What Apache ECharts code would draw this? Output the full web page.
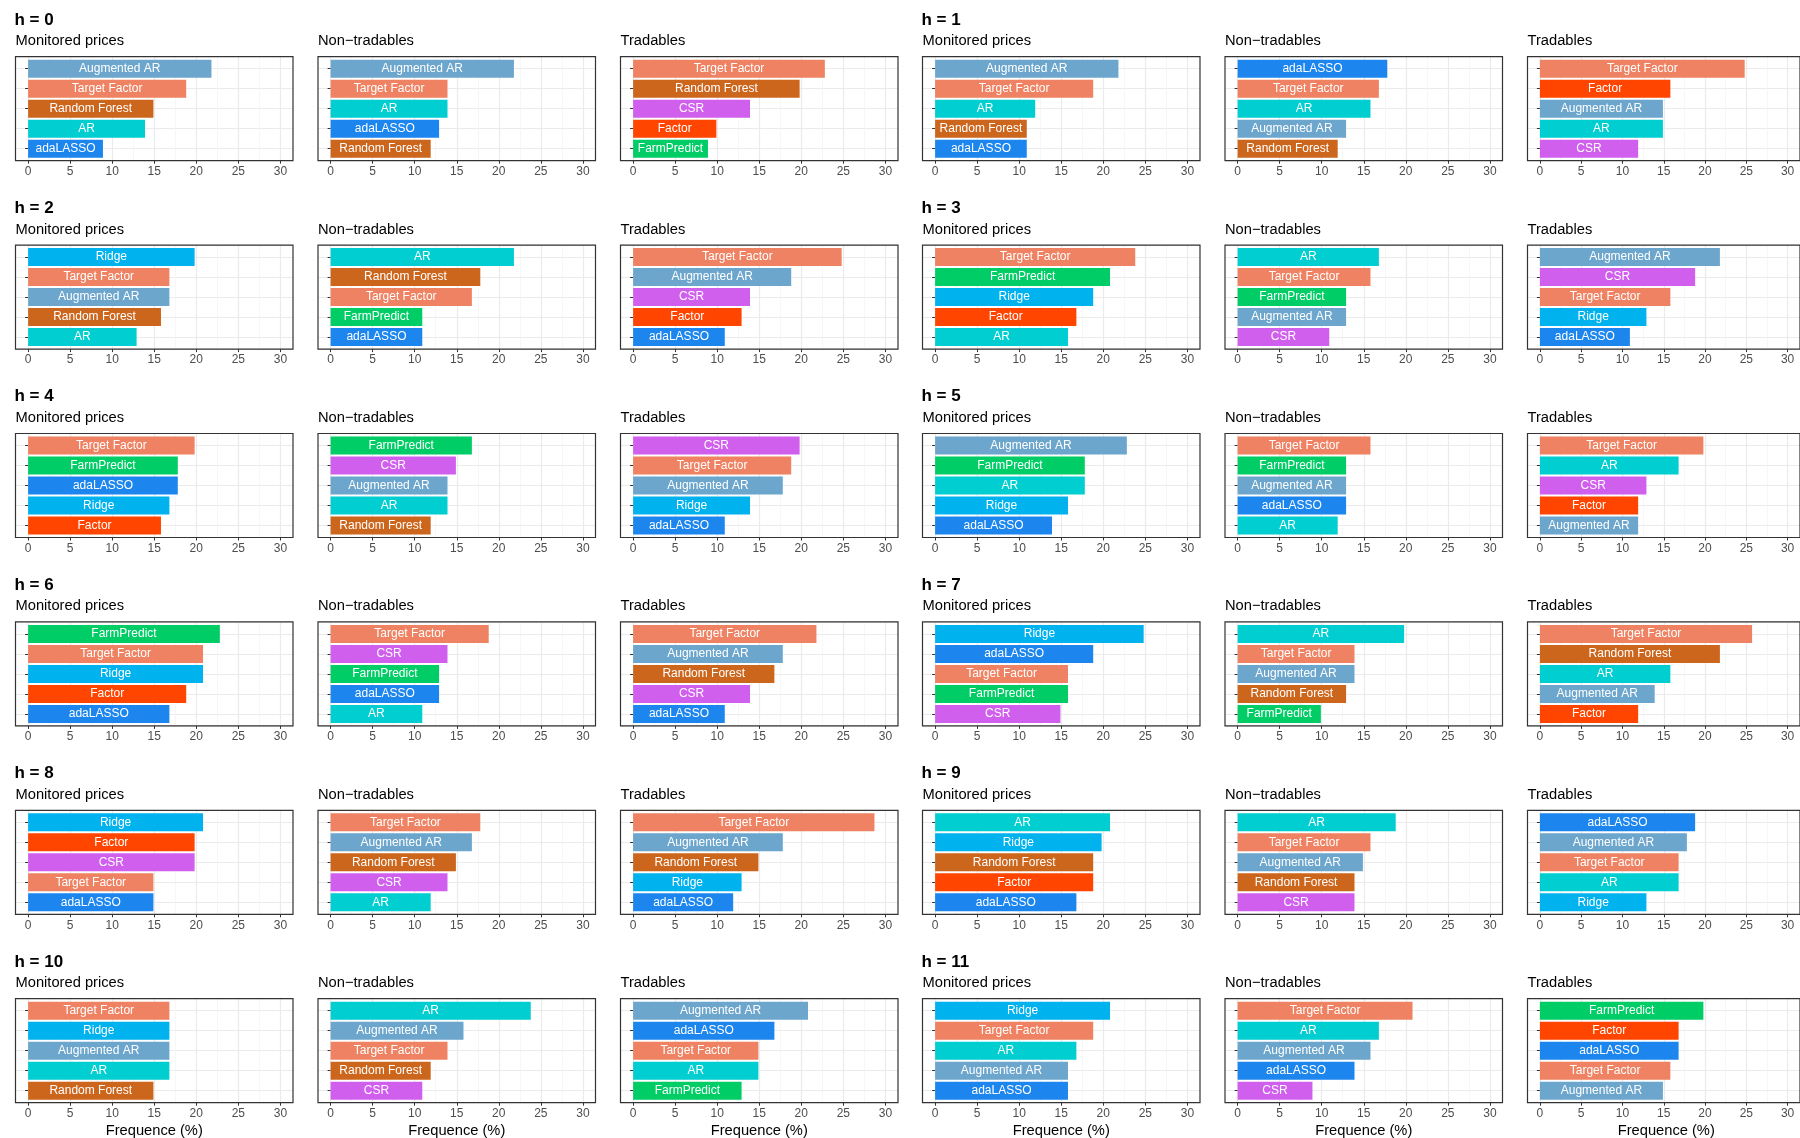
<!DOCTYPE html>
<html>
<head>
<meta charset="utf-8">
<script src="https://cdn.jsdelivr.net/npm/echarts@6/dist/echarts.min.js"></script>
<style>
  html, body { margin: 0; padding: 0; background: #fff; }
  #chart { width: 1800px; height: 1138px; }
</style>
</head>
<body>
<div id="chart"></div>
<script>
// horizons, panel names, x ticks
const horizons = ['h = 0', 'h = 1', 'h = 2', 'h = 3', 'h = 4', 'h = 5',
                  'h = 6', 'h = 7', 'h = 8', 'h = 9', 'h = 10', 'h = 11'];
const panelTitles = ['Monitored prices', 'Non\u2212tradables', 'Tradables'];
const xTicks = [0, 5, 10, 15, 20, 25, 30];
const xTitle = 'Frequence (%)';

// top 5 models per horizon (one row per h), ranked top to bottom
const monitoredModels = [
  ['Augmented AR', 'Target Factor', 'Random Forest', 'AR', 'adaLASSO'],
  ['Augmented AR', 'Target Factor', 'AR', 'Random Forest', 'adaLASSO'],
  ['Ridge', 'Target Factor', 'Augmented AR', 'Random Forest', 'AR'],
  ['Target Factor', 'FarmPredict', 'Ridge', 'Factor', 'AR'],
  ['Target Factor', 'FarmPredict', 'adaLASSO', 'Ridge', 'Factor'],
  ['Augmented AR', 'FarmPredict', 'AR', 'Ridge', 'adaLASSO'],
  ['FarmPredict', 'Target Factor', 'Ridge', 'Factor', 'adaLASSO'],
  ['Ridge', 'adaLASSO', 'Target Factor', 'FarmPredict', 'CSR'],
  ['Ridge', 'Factor', 'CSR', 'Target Factor', 'adaLASSO'],
  ['AR', 'Ridge', 'Random Forest', 'Factor', 'adaLASSO'],
  ['Target Factor', 'Ridge', 'Augmented AR', 'AR', 'Random Forest'],
  ['Ridge', 'Target Factor', 'AR', 'Augmented AR', 'adaLASSO']
];
const monitoredFreq = [
  [21.8, 18.8, 14.9, 13.9, 8.9],
  [21.8, 18.8, 11.9, 10.9, 10.9],
  [19.8, 16.8, 16.8, 15.8, 12.9],
  [23.8, 20.8, 18.8, 16.8, 15.8],
  [19.8, 17.8, 17.8, 16.8, 15.8],
  [22.8, 17.8, 17.8, 15.8, 13.9],
  [22.8, 20.8, 20.8, 18.8, 16.8],
  [24.8, 18.8, 15.8, 15.8, 14.9],
  [20.8, 19.8, 19.8, 14.9, 14.9],
  [20.8, 19.8, 18.8, 18.8, 16.8],
  [16.8, 16.8, 16.8, 16.8, 14.9],
  [20.8, 18.8, 16.8, 15.8, 15.8]
];

const nonTradModels = [
  ['Augmented AR', 'Target Factor', 'AR', 'adaLASSO', 'Random Forest'],
  ['adaLASSO', 'Target Factor', 'AR', 'Augmented AR', 'Random Forest'],
  ['AR', 'Random Forest', 'Target Factor', 'FarmPredict', 'adaLASSO'],
  ['AR', 'Target Factor', 'FarmPredict', 'Augmented AR', 'CSR'],
  ['FarmPredict', 'CSR', 'Augmented AR', 'AR', 'Random Forest'],
  ['Target Factor', 'FarmPredict', 'Augmented AR', 'adaLASSO', 'AR'],
  ['Target Factor', 'CSR', 'FarmPredict', 'adaLASSO', 'AR'],
  ['AR', 'Target Factor', 'Augmented AR', 'Random Forest', 'FarmPredict'],
  ['Target Factor', 'Augmented AR', 'Random Forest', 'CSR', 'AR'],
  ['AR', 'Target Factor', 'Augmented AR', 'Random Forest', 'CSR'],
  ['AR', 'Augmented AR', 'Target Factor', 'Random Forest', 'CSR'],
  ['Target Factor', 'AR', 'Augmented AR', 'adaLASSO', 'CSR']
];
const nonTradFreq = [
  [21.8, 13.9, 13.9, 12.9, 11.9],
  [17.8, 16.8, 15.8, 12.9, 11.9],
  [21.8, 17.8, 16.8, 10.9, 10.9],
  [16.8, 15.8, 12.9, 12.9, 10.9],
  [16.8, 14.9, 13.9, 13.9, 11.9],
  [15.8, 12.9, 12.9, 12.9, 11.9],
  [18.8, 13.9, 12.9, 12.9, 10.9],
  [19.8, 13.9, 13.9, 12.9, 9.9],
  [17.8, 16.8, 14.9, 13.9, 11.9],
  [18.8, 15.8, 14.9, 13.9, 13.9],
  [23.8, 15.8, 13.9, 11.9, 10.9],
  [20.8, 16.8, 15.8, 13.9, 8.9]
];

const tradModels = [
  ['Target Factor', 'Random Forest', 'CSR', 'Factor', 'FarmPredict'],
  ['Target Factor', 'Factor', 'Augmented AR', 'AR', 'CSR'],
  ['Target Factor', 'Augmented AR', 'CSR', 'Factor', 'adaLASSO'],
  ['Augmented AR', 'CSR', 'Target Factor', 'Ridge', 'adaLASSO'],
  ['CSR', 'Target Factor', 'Augmented AR', 'Ridge', 'adaLASSO'],
  ['Target Factor', 'AR', 'CSR', 'Factor', 'Augmented AR'],
  ['Target Factor', 'Augmented AR', 'Random Forest', 'CSR', 'adaLASSO'],
  ['Target Factor', 'Random Forest', 'AR', 'Augmented AR', 'Factor'],
  ['Target Factor', 'Augmented AR', 'Random Forest', 'Ridge', 'adaLASSO'],
  ['adaLASSO', 'Augmented AR', 'Target Factor', 'AR', 'Ridge'],
  ['Augmented AR', 'adaLASSO', 'Target Factor', 'AR', 'FarmPredict'],
  ['FarmPredict', 'Factor', 'adaLASSO', 'Target Factor', 'Augmented AR']
];
const tradFreq = [
  [22.8, 19.8, 13.9, 9.9, 8.9],
  [24.8, 15.8, 14.9, 14.9, 11.9],
  [24.8, 18.8, 13.9, 12.9, 10.9],
  [21.8, 18.8, 15.8, 12.9, 10.9],
  [19.8, 18.8, 17.8, 13.9, 10.9],
  [19.8, 16.8, 12.9, 11.9, 11.9],
  [21.8, 17.8, 16.8, 13.9, 10.9],
  [25.7, 21.8, 15.8, 13.9, 11.9],
  [28.7, 17.8, 14.9, 12.9, 11.9],
  [18.8, 17.8, 16.8, 16.8, 12.9],
  [20.8, 16.8, 14.9, 14.9, 12.9],
  [19.8, 16.8, 16.8, 15.8, 14.9]
];

const modelColors = {
  'Augmented AR': '#6CA6CD',
  'Target Factor': '#EE8262',
  'Random Forest': '#CD661D',
  'AR': '#00CED1',
  'adaLASSO': '#1C86EE',
  'CSR': '#D15FEE',
  'Factor': '#FF4500',
  'FarmPredict': '#00CD66',
  'Ridge': '#00B2EE'
};

const FONT = '"Liberation Sans", Arial, Helvetica, sans-serif';
const BOX_W = 277.5, BOX_H = 104;
const panelModels = [monitoredModels, nonTradModels, tradModels];
const panelFreq = [monitoredFreq, nonTradFreq, tradFreq];

const grids = [], xAxes = [], yAxes = [], series = [], texts = [];

horizons.forEach((hLabel, h) => {
  const r = Math.floor(h / 2), c = h % 2;
  const top = 56.7 + 188.4 * r;
  texts.push({
    type: 'text', x: 14.5 + 907 * c, y: top - 36.7,
    style: { text: hLabel, fontSize: 17, fontWeight: 'bold', fontFamily: FONT,
             fill: '#000', align: 'left', verticalAlign: 'middle' }
  });
  for (let p = 0; p < 3; p++) {
    const left = 15.5 + 907 * c + 302.5 * p;
    const models = panelModels[p][h];
    const vals = panelFreq[p][h];
    texts.push({
      type: 'text', x: left, y: top - 15.5,
      style: { text: panelTitles[p], fontSize: 14.7, fontFamily: FONT,
               fill: '#000', align: 'left', verticalAlign: 'middle' }
    });
    if (r === 5) {
      texts.push({
        type: 'text', x: left + BOX_W / 2, y: top + BOX_H + 28,
        style: { text: xTitle, fontSize: 14.7, fontFamily: FONT,
                 fill: '#000', align: 'center', verticalAlign: 'middle' }
      });
    }
    const gi = grids.length;
    // outer frame: border, grid lines, x ticks
    grids.push({ left: left, top: top, width: BOX_W, height: BOX_H, show: true,
                 borderColor: '#333', borderWidth: 1.2, backgroundColor: 'transparent', z: 3 });
    // inner band area for bars (ggplot discrete expansion 0.6)
    grids.push({ left: left, top: top + 2, width: BOX_W, height: BOX_H - 4 });

    xAxes.push({
      gridIndex: gi, type: 'value', min: -1.5, max: 31.5, minInterval: 5, maxInterval: 5,
      axisLine: { show: false },
      axisTick: { show: true, length: 3, customValues: xTicks, lineStyle: { color: '#333' } },
      axisLabel: { customValues: xTicks, color: '#4D4D4D', fontSize: 12, margin: 5, fontFamily: FONT },
      splitLine: { show: true, lineStyle: { color: '#EBEBEB', width: 1.2 } },
      minorTick: { show: false, splitNumber: 2 },
      minorSplitLine: { show: true, lineStyle: { color: '#F4F4F4', width: 0.7 } }
    });
    xAxes.push({ gridIndex: gi + 1, type: 'value', min: -1.5, max: 31.5, show: false });

    yAxes.push({
      gridIndex: gi, type: 'value', min: 0.4, max: 5.6, inverse: true,
      minInterval: 1, maxInterval: 1,
      axisLine: { show: false }, axisTick: { show: false }, axisLabel: { show: false },
      splitLine: { show: true, lineStyle: { color: '#EBEBEB', width: 1.2 } }
    });
    yAxes.push({
      gridIndex: gi + 1, type: 'category', inverse: true, data: models,
      axisLine: { show: false },
      axisTick: { show: true, alignWithLabel: true, length: 3, lineStyle: { color: '#333' } },
      axisLabel: { show: false }, splitLine: { show: false }
    });

    series.push({
      type: 'bar', xAxisIndex: gi + 1, yAxisIndex: gi + 1,
      barCategoryGap: '10%', silent: true,
      data: vals.map((v, k) => ({ value: v, itemStyle: { color: modelColors[models[k]] } })),
      label: {
        show: true, position: 'inside', formatter: (prm) => prm.name,
        color: '#fff', fontSize: 12, fontFamily: FONT, textBorderWidth: 0
      }
    });
  }
});

const chart = echarts.init(document.getElementById('chart'));
chart.setOption({
  animation: false,
  backgroundColor: '#fff',
  grid: grids,
  xAxis: xAxes,
  yAxis: yAxes,
  series: series,
  graphic: texts
});
</script>
</body>
</html>
